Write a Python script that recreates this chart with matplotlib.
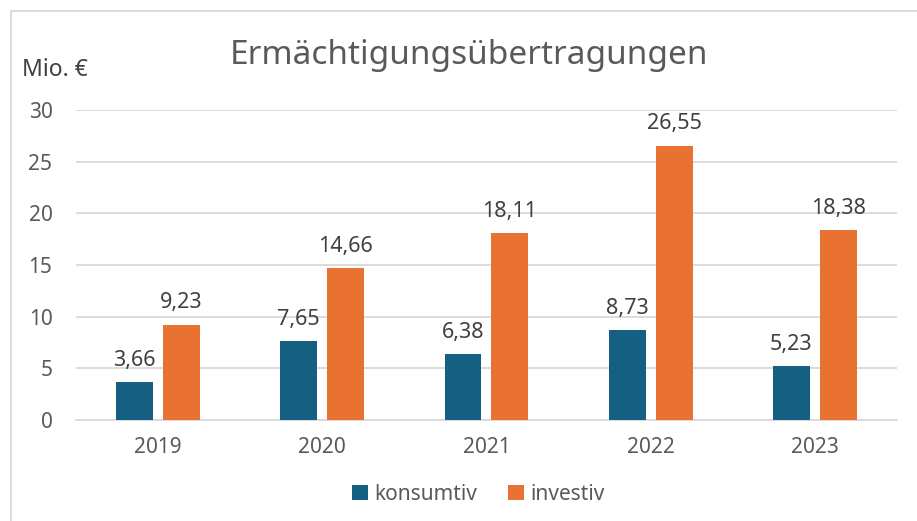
import matplotlib.pyplot as plt
import numpy as np
from matplotlib.lines import Line2D

plt.rcParams['font.family'] = ['Noto Sans', 'DejaVu Sans']

# Daten
jahre = ['2019', '2020', '2021', '2022', '2023']
konsumtiv = [3.66, 7.65, 6.38, 8.73, 5.23]
investiv = [9.23, 14.66, 18.11, 26.55, 18.38]

blau = '#156082'
orange = '#E97132'
text_farbe = '#595959'
gitter = '#D9D9D9'

fig = plt.figure(figsize=(9.17, 5.21), dpi=100)
ax = fig.add_axes([0.083, 0.194, 0.895, 0.595])

x = np.arange(len(jahre))
breite = 0.225
versatz = 0.143

b1 = ax.bar(x - versatz, konsumtiv, breite, color=blau, label='konsumtiv', zorder=3)
b2 = ax.bar(x + versatz, investiv, breite, color=orange, label='investiv', zorder=3)

for balken, werte in ((b1, konsumtiv), (b2, investiv)):
    ax.bar_label(balken, labels=[f'{w:.2f}'.replace('.', ',') for w in werte],
                 padding=8, fontsize=15.5, color='#404040')

ax.set_xlim(-0.5, len(jahre) - 0.5)
ax.set_ylim(0, 30)
ax.set_yticks(range(0, 31, 5))
ax.set_xticks(x)
ax.set_xticklabels(jahre)
ax.tick_params(axis='both', length=0, labelsize=15, colors=text_farbe)
ax.tick_params(axis='x', pad=12)
ax.tick_params(axis='y', pad=17)
for lbl in ax.get_yticklabels():
    lbl.set_horizontalalignment('right')

ax.grid(axis='y', color=gitter, linewidth=1.3, zorder=0)
for s in ['top', 'right', 'left']:
    ax.spines[s].set_visible(False)
ax.spines['bottom'].set_color(gitter)
ax.spines['bottom'].set_linewidth(1.3)

fig.text(0.511, 0.893, 'Ermächtigungsübertragungen', ha='center', va='center',
         fontsize=24, color=text_farbe)
fig.text(0.024, 0.866, 'Mio. €', ha='left', va='center', fontsize=16.5, color='#404040')

ax.legend(loc='upper center', bbox_to_anchor=(0.49, -0.145), ncol=2, frameon=False,
          fontsize=15, labelcolor=text_farbe, handlelength=0.75, handleheight=0.75,
          handletextpad=0.3, columnspacing=1.5)

# Rahmen links und oben
fig.add_artist(Line2D([0.012, 0.012], [0.0, 0.979], color=gitter, linewidth=1.3))
fig.add_artist(Line2D([0.012, 1.0], [0.979, 0.979], color=gitter, linewidth=1.3))

fig.savefig('out.png', dpi=100)
